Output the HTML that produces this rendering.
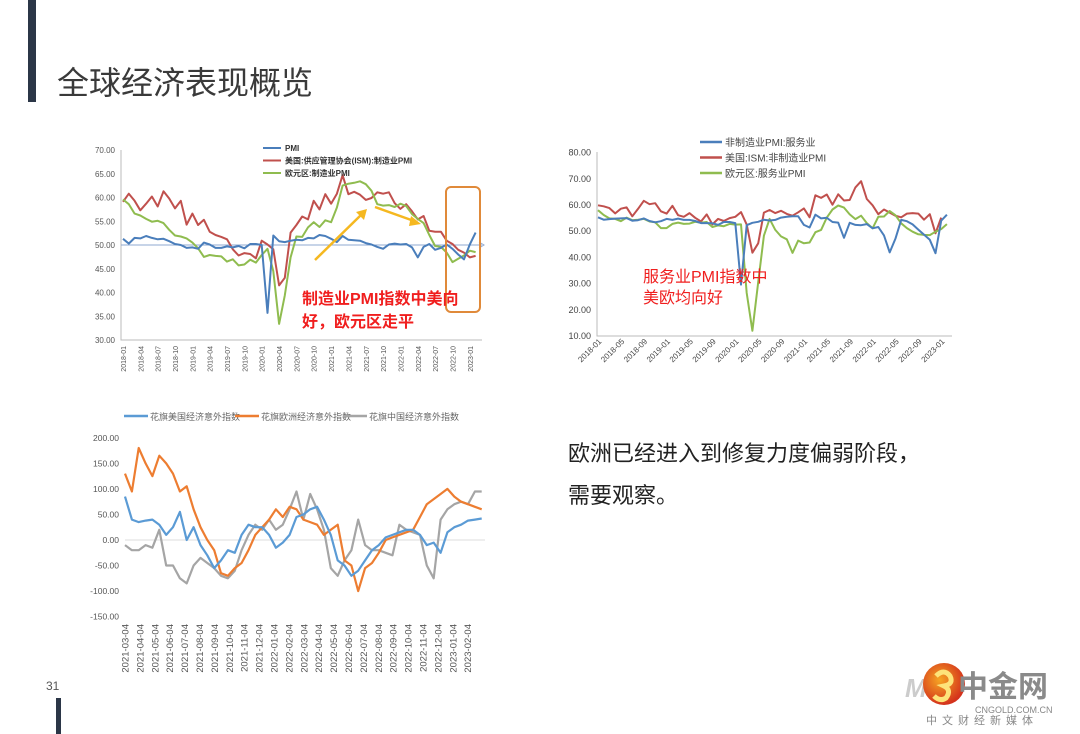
<!DOCTYPE html>
<html><head><meta charset="utf-8">
<style>
html,body{margin:0;padding:0;background:#fff;}
svg{display:block;font-family:"Liberation Sans","Noto Sans CJK SC",sans-serif;}
</style></head>
<body>
<svg id="page" width="1080" height="734" viewBox="0 0 1080 734" xmlns="http://www.w3.org/2000/svg">
<rect x="0" y="0" width="1080" height="734" fill="#fff"/>
<rect x="28" y="0" width="8" height="102" fill="#2b3647"/>
<text x="57" y="94" font-size="32" fill="#3a3a3a">全球经济表现概览</text>
<text x="46" y="690" font-size="12" fill="#555">31</text>
<rect x="56" y="698" width="5" height="36" fill="#2b3647"/>

<g id="c1"></g>
<g id="c2"></g>
<g id="c3"></g>

<text x="568" y="461" font-size="22" fill="#222">欧洲已经进入到修复力度偏弱阶段，</text>
<text x="568" y="503" font-size="22" fill="#222">需要观察。</text>

<g>
<text x="905" y="697" font-size="26" font-weight="bold" font-style="italic" fill="#ccc">Mo</text>
<defs><radialGradient id="lg" cx="40%" cy="40%" r="60%"><stop offset="0" stop-color="#f6a623"/><stop offset="1" stop-color="#d4321c"/></radialGradient></defs>
<circle cx="944" cy="684" r="21" fill="url(#lg)"/>
<path d="M936 676 q8 -8 14 0 q4 8 -6 10 q8 4 2 12 q-6 4 -12 -2" fill="none" stroke="#fde37a" stroke-width="5"/>
<text x="958" y="697" font-size="30" font-weight="bold" fill="#8a8a8a">中金网</text>
<text x="975" y="713" font-size="9" fill="#888">CNGOLD.COM.CN</text>
<text x="926" y="724" font-size="11" fill="#888" letter-spacing="5">中文财经新媒体</text>
</g>
</svg>
<script>
// ---------- Chart 1 data: manufacturing PMI, 2018-01 .. 2023-02 ----------
const c1Cn = [51.3,50.3,51.5,51.4,51.9,51.5,51.2,51.3,50.8,50.2,50.0,49.4,
49.5,49.2,50.5,50.1,49.4,49.4,49.7,49.5,49.8,49.3,50.2,50.2,
50.0,35.7,52.0,50.8,50.6,50.9,51.1,51.0,51.5,51.4,52.1,51.9,
51.3,50.6,51.9,51.1,51.0,50.9,50.4,50.1,49.6,49.2,50.1,50.3,
50.1,50.2,49.5,47.4,49.6,50.2,49.0,49.4,50.1,49.2,48.0,47.0,
50.1,52.6];
const c1Us = [59.1,60.8,59.3,57.3,58.7,60.2,58.1,61.3,59.8,57.7,59.3,54.3,
56.6,54.2,55.3,52.8,52.1,51.7,51.2,49.1,47.8,48.3,48.1,47.2,
50.9,50.1,49.1,41.5,43.1,52.6,54.2,56.0,55.4,59.3,57.5,60.7,
58.7,60.8,64.7,60.7,61.2,60.6,59.5,59.9,61.1,60.8,61.1,58.8,
57.6,58.6,57.1,55.4,56.1,53.0,52.8,52.8,50.9,50.2,49.0,48.4,
47.4,47.7];
const c1Eu = [59.6,58.6,56.6,56.2,55.5,54.9,55.1,54.6,53.2,52.0,51.8,51.4,
50.5,49.3,47.5,47.9,47.7,47.6,46.5,47.0,45.7,45.9,46.9,46.3,
47.9,49.2,44.5,33.4,39.4,47.4,51.8,51.7,53.7,54.8,53.8,55.2,
54.8,57.9,62.5,62.9,63.1,63.4,62.8,61.4,58.6,58.3,58.4,58.0,
58.7,58.2,56.5,55.5,54.6,52.1,49.8,49.6,48.4,46.4,47.1,47.8,
48.8,48.5];
const c1YTicks = [70,65,60,55,50,45,40,35,30];
const c1XLabels = ["2018-01","2018-04","2018-07","2018-10","2019-01","2019-04","2019-07","2019-10","2020-01","2020-04","2020-07","2020-10","2021-01","2021-04","2021-07","2021-10","2022-01","2022-04","2022-07","2022-10","2023-01"];

// ---------- Chart 2 data: services PMI, 2018-01 .. 2023-02 ----------
const c2Cn = [55.3,54.4,54.6,54.8,54.9,55.0,54.0,54.2,54.9,53.9,53.4,53.8,
54.7,54.3,54.8,54.3,54.3,53.9,53.1,53.1,53.0,52.4,53.5,53.5,
53.1,29.6,52.3,53.2,53.6,54.4,54.1,54.3,55.2,55.5,55.7,55.7,
52.4,51.4,56.3,54.9,55.1,53.5,53.3,47.5,53.2,52.4,52.3,52.7,
51.1,51.6,48.4,41.9,47.1,54.3,53.8,52.6,50.6,48.7,46.7,41.6,
54.0,56.3];
const c2Us = [59.9,59.5,58.8,56.8,58.6,59.1,55.7,58.5,61.6,60.3,60.7,57.6,
56.7,59.7,56.1,55.5,56.9,55.1,53.7,56.4,52.6,54.7,53.9,55.0,
55.5,57.3,52.5,41.8,45.4,57.1,58.1,56.9,57.8,56.6,55.9,57.2,
58.7,55.3,63.7,62.7,64.0,60.1,64.1,61.7,61.9,66.7,69.1,62.3,
59.9,56.5,58.3,57.1,55.9,55.3,56.7,56.9,56.7,54.4,56.5,49.2,
55.2];
const c2Eu = [58.0,56.2,54.9,54.7,53.8,55.2,54.2,54.4,54.7,53.7,53.4,51.2,
51.2,52.8,53.3,52.8,52.9,53.6,53.2,53.5,51.6,52.2,51.9,52.8,
52.5,52.6,26.4,12.0,30.5,48.3,54.7,50.5,48.0,46.9,41.7,46.4,
45.4,45.7,49.6,50.5,55.2,58.3,59.8,59.0,56.4,54.6,55.9,53.1,
51.1,55.5,55.6,57.7,56.1,53.0,51.2,49.8,48.8,48.6,48.5,49.8,
50.8,52.7];
const c2YTicks = [80,70,60,50,40,30,20,10];
const c2XLabels = ["2018-01","2018-05","2018-09","2019-01","2019-05","2019-09","2020-01","2020-05","2020-09","2021-01","2021-05","2021-09","2022-01","2022-05","2022-09","2023-01"];

// ---------- Chart 3 data: Citi surprise indices, biweekly from 2021-03-04 ----------
const c3Us = [85,40,35,38,40,30,10,25,55,0,25,-10,-30,-55,-40,-20,-25,10,30,25,25,10,-15,-5,10,45,50,60,65,40,10,-40,-50,-70,-60,-40,-20,-10,5,10,15,20,20,10,-10,-5,-25,15,25,30,38,40,42];
const c3Eu = [130,95,180,150,125,165,150,130,95,105,60,25,0,-20,-65,-70,-55,-45,-20,10,25,40,60,45,65,60,40,35,30,10,20,30,-40,-50,-100,-55,-45,-25,0,5,10,15,20,45,70,80,90,100,85,75,70,65,60];
const c3Cn = [-10,-20,-20,-10,-15,20,-50,-50,-75,-85,-50,-35,-45,-55,-70,-75,-60,-20,10,30,20,40,20,30,60,95,40,90,60,20,-55,-70,-40,-20,40,-10,-20,-20,-25,-30,30,20,15,10,-50,-75,40,60,70,75,70,95,95];
const c3YTicks = [200,150,100,50,0,-50,-100,-150];
const c3XLabels = ["2021-03-04","2021-04-04","2021-05-04","2021-06-04","2021-07-04","2021-08-04","2021-09-04","2021-10-04","2021-11-04","2021-12-04","2022-01-04","2022-02-04","2022-03-04","2022-04-04","2022-05-04","2022-06-04","2022-07-04","2022-08-04","2022-09-04","2022-10-04","2022-11-04","2022-12-04","2023-01-04","2023-02-04"];

const NS = "http://www.w3.org/2000/svg";
function mk(parent, tag, attrs, txt){
  const e = document.createElementNS(NS, tag);
  for (const k in attrs) e.setAttribute(k, attrs[k]);
  if (txt !== undefined) e.textContent = txt;
  parent.appendChild(e);
  return e;
}
function linePath(vals, xf, yf){
  return vals.map((v,i)=>(i?"L":"M")+xf(i).toFixed(1)+" "+yf(v).toFixed(1)).join(" ");
}

// ===== Chart 1 =====
(function(){
  const g = document.getElementById('c1');
  const x = i => 123 + i*5.78;
  const y = v => 340 - (v-30)*4.75;
  c1YTicks.forEach(t=>{
    const e = mk(g,'text',{x:115,y:y(t)+3,'font-size':8,'text-anchor':'end',fill:'#555'},t.toFixed(2));
    
    
  });
  c1XLabels.forEach((l,k)=>{
    const px = x(k*3)+3;
    const e = mk(g,'text',{x:0,y:0,'font-size':7,'text-anchor':'end',fill:'#555',transform:`translate(${px},346) rotate(-90)`},l);
    
    
  });
  const ax = mk(g,'path',{d:`M121 150 V340 H482`,stroke:'#bbb','stroke-width':1,fill:'none'});
  
  
  const ref = mk(g,'path',{d:`M121 ${y(50)} H482`,stroke:'#8fa8d0','stroke-width':1,fill:'none'});
  
  
  mk(g,'path',{d:`M479 ${y(50)-3} L484 ${y(50)} L479 ${y(50)+3}`,stroke:'#8fa8d0',fill:'none'});
  [[c1Us,'#c0504d','us-ism-pmi-line'],[c1Eu,'#8fbc4f','eurozone-pmi-line'],[c1Cn,'#4a7ebb','china-pmi-line']].forEach(s=>{
    const p = mk(g,'path',{d:linePath(s[0],x,y),stroke:s[1],'stroke-width':2,fill:'none','stroke-linejoin':'round'});
    
    
  });
  const leg = [['#4a7ebb','PMI'],['#c0504d','美国:供应管理协会(ISM):制造业PMI'],['#8fbc4f','欧元区:制造业PMI']];
  leg.forEach((l,k)=>{
    const ly = 148 + k*12.5;
    const li = mk(g,'line',{x1:263,x2:281,y1:ly,y2:ly,stroke:l[0],'stroke-width':2});
    
    
    const t = mk(g,'text',{x:285,y:ly+3,'font-size':8,fill:'#333','font-weight':'bold'},l[1]);
    
    
  });
  const box = mk(g,'rect',{x:446,y:187,width:34,height:125,rx:5,fill:'none',stroke:'#e08a3a','stroke-width':2});
  
  
  const a1 = mk(g,'path',{d:'M315 260 L362 214',stroke:'#f5b820','stroke-width':2.5,fill:'none'});
  
  
  mk(g,'path',{d:'M367 209 L356 212 L364 220 Z',fill:'#f5b820'});
  const a2 = mk(g,'path',{d:'M375 207 L414 221',stroke:'#f5b820','stroke-width':2.5,fill:'none'});
  
  
  mk(g,'path',{d:'M421 224 L411 216 L409 226 Z',fill:'#f5b820'});
  const n1 = mk(g,'text',{x:302,y:304,'font-size':16,fill:'#f01e1e','font-weight':'bold'},'制造业PMI指数中美向');
  
  
  const n2 = mk(g,'text',{x:302,y:327,'font-size':16,fill:'#f01e1e','font-weight':'bold'},'好，欧元区走平');
  
  
})();

// ===== Chart 2 =====
(function(){
  const g = document.getElementById('c2');
  const x = i => 598 + i*5.72;
  const y = v => 336 - (v-10)*2.62;
  c2YTicks.forEach(t=>{
    const e = mk(g,'text',{x:591,y:y(t)+3,'font-size':9,'text-anchor':'end',fill:'#444'},t.toFixed(2));
    
    
  });
  c2XLabels.forEach((l,k)=>{
    const px = x(k*4)+4;
    const e = mk(g,'text',{x:0,y:0,'font-size':8,'text-anchor':'end',fill:'#444',transform:`translate(${px},342) rotate(-45)`},l);
    
    
  });
  const ax = mk(g,'path',{d:`M597 152 V336 H952`,stroke:'#bbb','stroke-width':1,fill:'none'});
  
  
  [[c2Us,'#c0504d','us-ism-services-line'],[c2Eu,'#8fbc4f','eurozone-services-line'],[c2Cn,'#4a7ebb','china-services-line']].forEach(s=>{
    const p = mk(g,'path',{d:linePath(s[0],x,y),stroke:s[1],'stroke-width':2,fill:'none','stroke-linejoin':'round'});
    
    
  });
  const leg = [['#4a7ebb','非制造业PMI:服务业'],['#c0504d','美国:ISM:非制造业PMI'],['#8fbc4f','欧元区:服务业PMI']];
  leg.forEach((l,k)=>{
    const ly = 142 + k*15.5;
    const li = mk(g,'line',{x1:700,x2:722,y1:ly,y2:ly,stroke:l[0],'stroke-width':2.5});
    
    
    const t = mk(g,'text',{x:725,y:ly+4,'font-size':10,fill:'#444'},l[1]);
    
    
  });
  const n1 = mk(g,'text',{x:643,y:282,'font-size':16,fill:'#f01e1e'},'服务业PMI指数中');
  
  
  const n2 = mk(g,'text',{x:643,y:303,'font-size':16,fill:'#f01e1e'},'美欧均向好');
  
  
})();

// ===== Chart 3 =====
(function(){
  const g = document.getElementById('c3');
  const x = i => 125 + i*6.86;
  const y = v => 540 - v*0.511;
  c3YTicks.forEach(t=>{
    const e = mk(g,'text',{x:119,y:y(t)+3,'font-size':8.5,'text-anchor':'end',fill:'#555'},t.toFixed(2));
    
    
  });
  c3XLabels.forEach((l,k)=>{
    const px = 125 + k*14.9 + 3.5;
    const e = mk(g,'text',{x:0,y:0,'font-size':9.5,'text-anchor':'end',fill:'#555',transform:`translate(${px},624) rotate(-90)`},l);
    
    
  });
  const z = mk(g,'line',{x1:125,x2:485,y1:y(0),y2:y(0),stroke:'#ddd','stroke-width':1});
  
  
  [[c3Cn,'#a5a5a5','china-surprise-line'],[c3Eu,'#ed7d31','europe-surprise-line'],[c3Us,'#5b9bd5','us-surprise-line']].forEach(s=>{
    const p = mk(g,'path',{d:linePath(s[0],x,y),stroke:s[1],'stroke-width':2.2,fill:'none','stroke-linejoin':'round'});
    
    
  });
  const leg = [['#5b9bd5','花旗美国经济意外指数',124],['#ed7d31','花旗欧洲经济意外指数',235],['#a5a5a5','花旗中国经济意外指数',343]];
  leg.forEach(l=>{
    const li = mk(g,'line',{x1:l[2],x2:l[2]+24,y1:416,y2:416,stroke:l[0],'stroke-width':2.5});
    
    
    const t = mk(g,'text',{x:l[2]+26,y:420,'font-size':9,fill:'#666'},l[1]);
    
    
  });
})();
</script>
</body></html>
